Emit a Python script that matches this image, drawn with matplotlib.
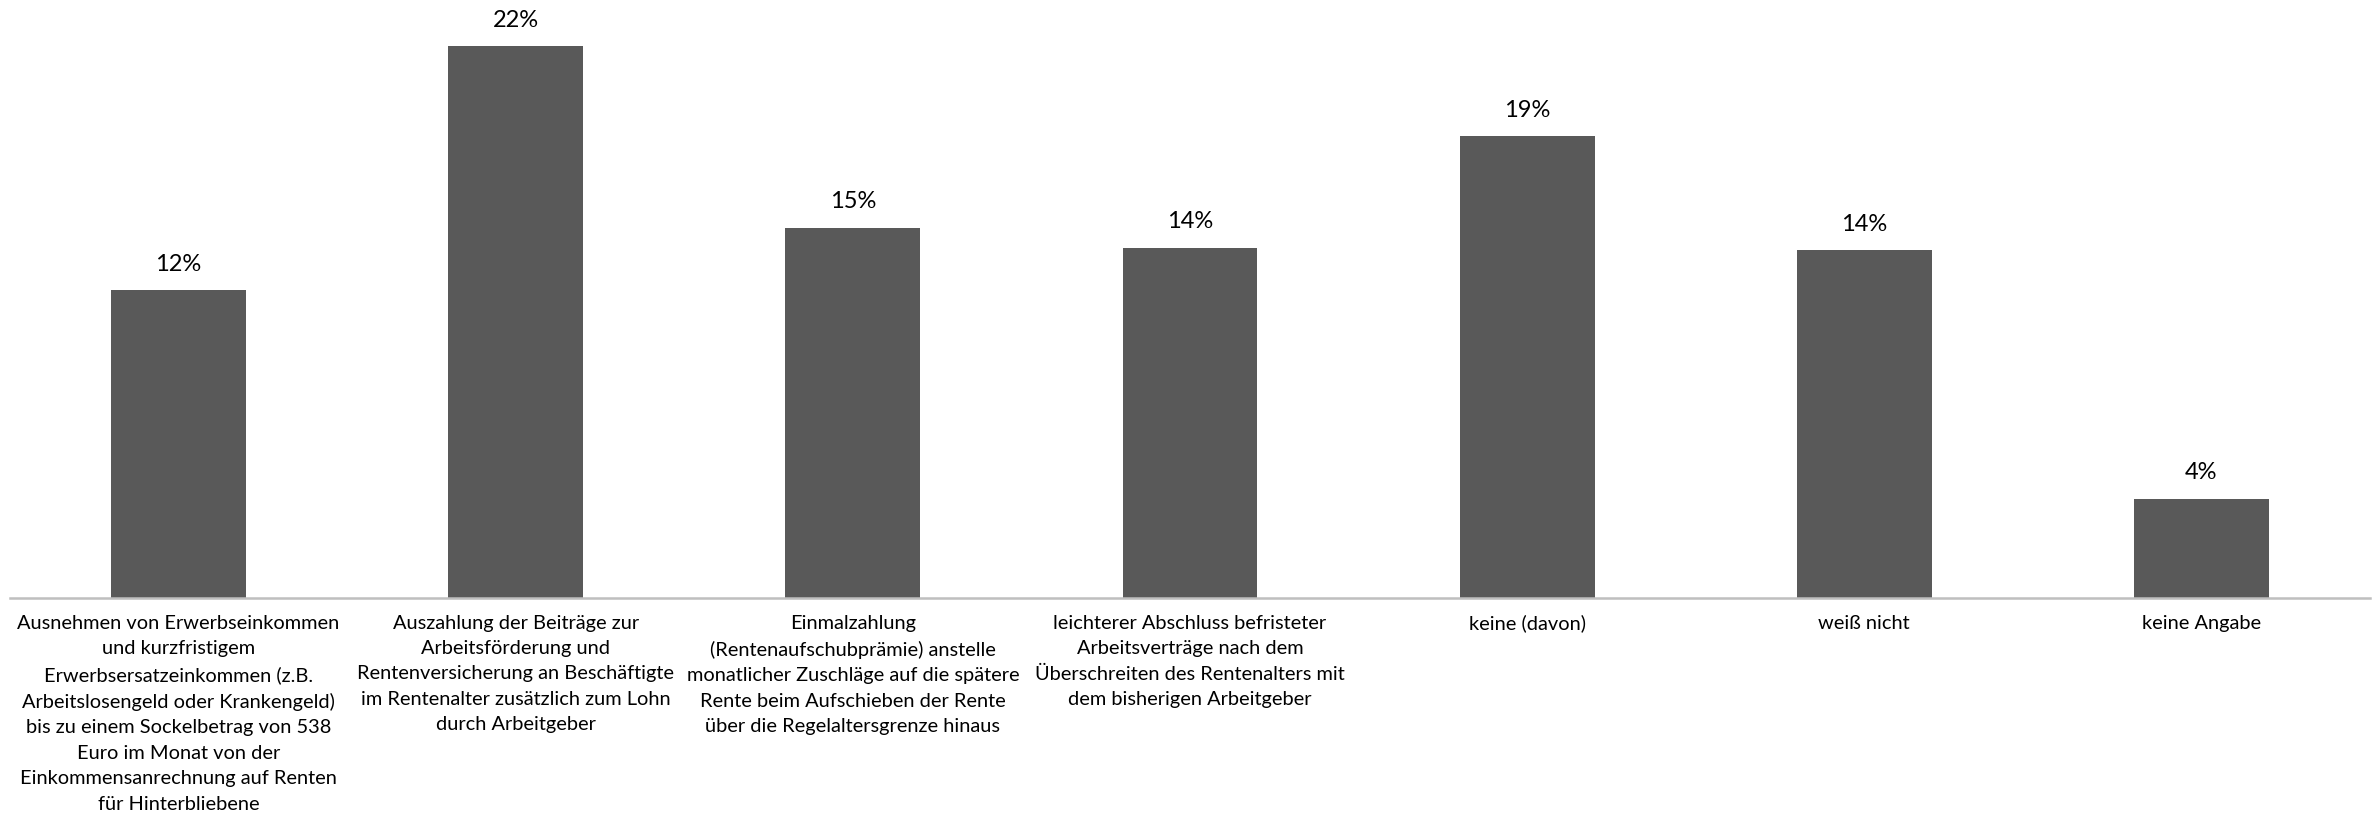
import matplotlib
matplotlib.use('Agg')
import matplotlib.pyplot as plt

# Categories (line breaks as in the original chart)
categories = [
    'Ausnehmen von Erwerbseinkommen\nund kurzfristigem\nErwerbsersatzeinkommen (z.B.\nArbeitslosengeld oder Krankengeld)\nbis zu einem Sockelbetrag von 538\nEuro im Monat von der\nEinkommensanrechnung auf Renten\nfür Hinterbliebene',
    'Auszahlung der Beiträge zur\nArbeitsförderung und\nRentenversicherung an Beschäftigte\nim Rentenalter zusätzlich zum Lohn\ndurch Arbeitgeber',
    'Einmalzahlung\n(Rentenaufschubprämie) anstelle\nmonatlicher Zuschläge auf die spätere\nRente beim Aufschieben der Rente\nüber die Regelaltersgrenze hinaus',
    'leichterer Abschluss befristeter\nArbeitsverträge nach dem\nÜberschreiten des Rentenalters mit\ndem bisherigen Arbeitgeber',
    'keine (davon)',
    'weiß nicht',
    'keine Angabe',
]
values = [12.4, 22.2, 14.9, 14.1, 18.6, 14.0, 4.0]

BAR_COLOR = '#595959'
AXIS_COLOR = '#bfbfbf'
FONT = ['Lato', 'DejaVu Sans']

fig = plt.figure(figsize=(23.74, 8.16), dpi=100)
ax = fig.add_axes([10 / 2374, (816 - 598) / 816, 2360 / 2374, 598 / 816])

x = range(len(categories))
bars = ax.bar(x, values, width=0.40, color=BAR_COLOR, zorder=2)

for b, v in zip(bars, values):
    ax.annotate(f'{v:.0f}%', (b.get_x() + b.get_width() / 2, v),
                xytext=(0, 11), textcoords='offset points',
                ha='center', va='bottom', fontsize=17, family=FONT, color='black')

ax.set_xlim(-0.5, len(categories) - 0.5)
ax.set_ylim(0, 598 / 24.85)

ax.set_xticks(list(x))
ax.set_xticklabels(categories, fontsize=14.4, family=FONT, linespacing=1.6)
ax.tick_params(axis='x', length=0, pad=12)
ax.set_yticks([])

for side in ['top', 'right', 'left']:
    ax.spines[side].set_visible(False)
ax.spines['bottom'].set_color(AXIS_COLOR)
ax.spines['bottom'].set_linewidth(1.8)

fig.savefig('out.png', dpi=100, facecolor='white')
